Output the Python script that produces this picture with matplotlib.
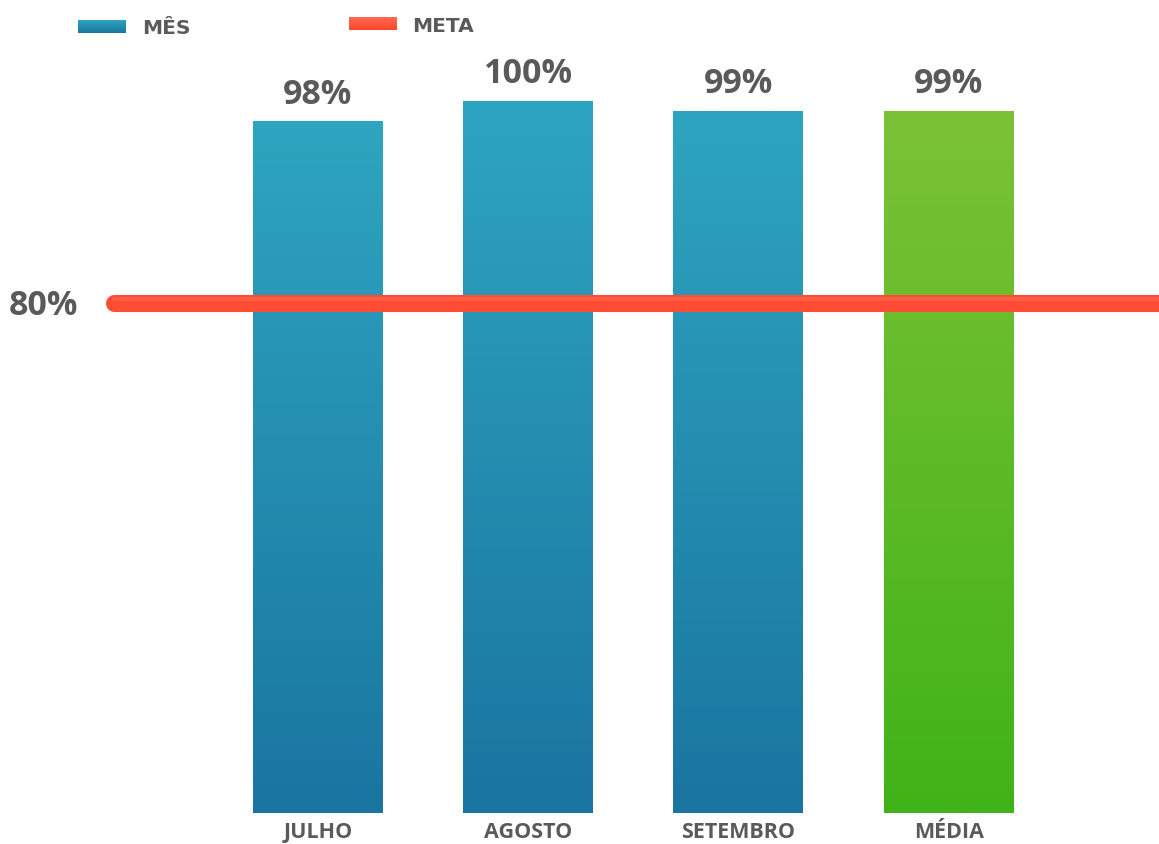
import numpy as np
import matplotlib
matplotlib.use('Agg')
import matplotlib.pyplot as plt
import matplotlib.transforms as mtransforms
from matplotlib.colors import LinearSegmentedColormap

# data
categories = ['JULHO', 'AGOSTO', 'SETEMBRO', 'MÉDIA']
values = [98, 100, 99, 99]
value_labels = ['98%', '100%', '99%', '99%']
meta = 80
meta_label = '80%'

plt.rcParams['font.family'] = ['Open Sans', 'DejaVu Sans']
grey = '#5a5a5a'

blue_cmap = LinearSegmentedColormap.from_list('blue', ['#1a75a0', '#2ea5c0'])
green_cmap = LinearSegmentedColormap.from_list('green', ['#40b318', '#7cc237'])
red_cmap = LinearSegmentedColormap.from_list('red', ['#ff4530', '#ff6a4e'])

W, H = 1159, 845
y_lo, y_hi = 29.6, 110.1
fig = plt.figure(figsize=(W / 100, H / 100), dpi=100)
ax = fig.add_axes([0, 31 / H, 1, 814 / H])
ax.set_xlim(-1.512, 4.0)
ax.set_ylim(y_lo, y_hi)
ax.axis('off')

x = np.arange(len(categories))
bars = ax.bar(x, values, width=0.618, color='none', zorder=1)

grad = np.linspace(0, 1, 256).reshape(-1, 1)
for i, b in enumerate(bars):
    x0 = b.get_x()
    x1, y1 = x0 + b.get_width(), b.get_height()
    cmap = green_cmap if categories[i] == 'MÉDIA' else blue_cmap
    ax.imshow(grad, cmap=cmap, origin='lower', aspect='auto',
              extent=[x0, x1, y_lo, y1], zorder=1)
    ax.annotate(value_labels[i], (x[i], values[i]), xytext=(0, 20),
                textcoords='offset points', ha='center', va='center',
                fontsize=24.5, fontweight='bold', color=grey)
    ax.text(x[i], -0.0225, categories[i], transform=ax.get_xaxis_transform(),
            ha='center', va='center', fontsize=15.5, fontweight='bold', color=grey)

# meta line
ax.plot([-0.97, 4.3], [meta, meta], color='#ff4d35', lw=12.3,
        solid_capstyle='round', zorder=3)
ax.plot([-0.97, 4.3], [meta + 0.45, meta + 0.45], color='#ff6a50', lw=3,
        solid_capstyle='round', zorder=3, alpha=0.6)
trans = mtransforms.blended_transform_factory(ax.transAxes, ax.transData)
ax.annotate(meta_label, (43 / W, meta), xycoords=trans, xytext=(0, -1.5),
            textcoords='offset points', ha='center', va='center',
            fontsize=24.5, fontweight='bold', color=grey)

# legend
for (px, py, cmap, label, tx) in [(78, 21, blue_cmap, 'MÊS', 142),
                                   (349, 18, red_cmap, 'META', 412)]:
    lax = fig.add_axes([px / W, 1 - (py + 13) / H, 48 / W, 13 / H])
    lax.imshow(grad, cmap=cmap, origin='lower', aspect='auto')
    lax.axis('off')
    fig.text(tx / W, 1 - (py + 8) / H, label, ha='left', va='center',
             fontsize=14.5, fontweight='bold', color=grey, family='DejaVu Sans')

fig.savefig('out.png', dpi=100)
